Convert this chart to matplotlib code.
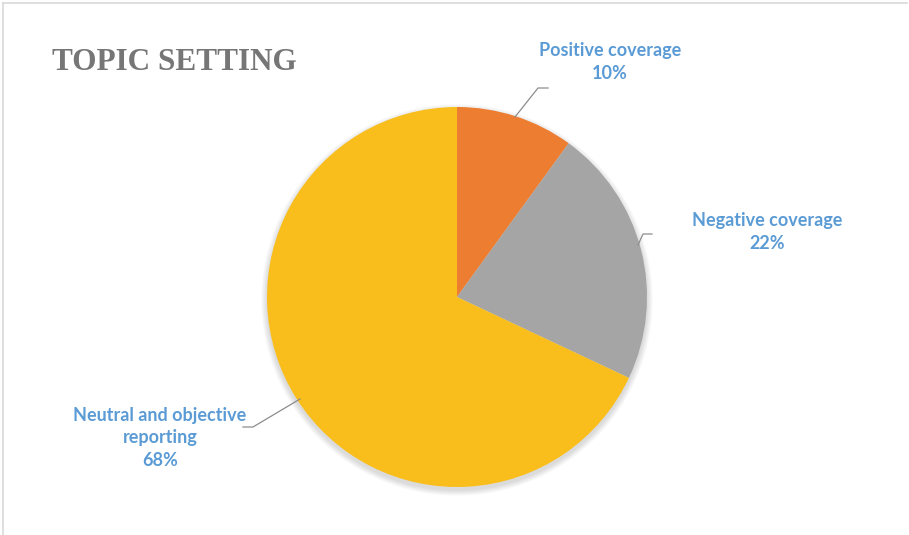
import matplotlib
matplotlib.use("Agg")
import matplotlib.pyplot as plt
from matplotlib.patches import Circle
from matplotlib.lines import Line2D

categories = ["Positive coverage", "Negative coverage", "Neutral and objective\nreporting"]
shares = [10, 22, 68]
colors = ["#ED7D31", "#A5A5A5", "#F9BE1C"]

W, H = 909, 535
fig = plt.figure(figsize=(W / 100, H / 100), dpi=100)
ax = fig.add_axes([0, 0, 1, 1])
ax.set_xlim(0, W)
ax.set_ylim(0, H)
ax.set_aspect("equal")
ax.axis("off")

cx, cy, r = 457, H - 297, 190

# soft drop shadow under the pie
for i in range(12):
    ax.add_patch(Circle((cx, cy - 3), r + 6 - i * 0.5, color="black",
                        alpha=0.012, lw=0, zorder=0))

wedges, _ = ax.pie(shares, colors=colors, startangle=90, counterclock=False,
                   center=(cx, cy), radius=r, frame=True,
                   wedgeprops=dict(linewidth=0))
ax.set_xlim(0, W)
ax.set_ylim(0, H)
ax.axis("off")

label_color = "#5B9BD5"
line_color = "#8C8C8C"
font = dict(family="Lato", weight="bold", size=13, color=label_color,
            ha="center", va="center", linespacing=1.4)

labels = [f"{c}\n{v}%" for c, v in zip(categories, shares)]
ax.text(610, H - 62, labels[0], **font)
ax.text(767, H - 232, labels[1], **font)
ax.text(160, H - 438, labels[2], **font)

leaders = [
    [(515, 117), (538, 88), (548, 88)],
    [(638, 245), (643, 234), (652, 234)],
    [(300, 399), (253, 427), (243, 427)],
]
for pts in leaders:
    xs = [p[0] for p in pts]
    ys = [H - p[1] for p in pts]
    ax.add_line(Line2D(xs, ys, color=line_color, lw=0.9, zorder=5))

ax.text(52, H - 62, "TOPIC SETTING", family="Liberation Serif", weight="bold",
        size=22.5, color="#767676", ha="left", va="center")

# outer frame lines along the top and left edges
ax.add_line(Line2D([3, 907], [H - 3, H - 3], color="#D9D9D9", lw=1.2))
ax.add_line(Line2D([3, 3], [H - 3, 0], color="#D9D9D9", lw=1.2))

fig.savefig("out.png", dpi=100)
